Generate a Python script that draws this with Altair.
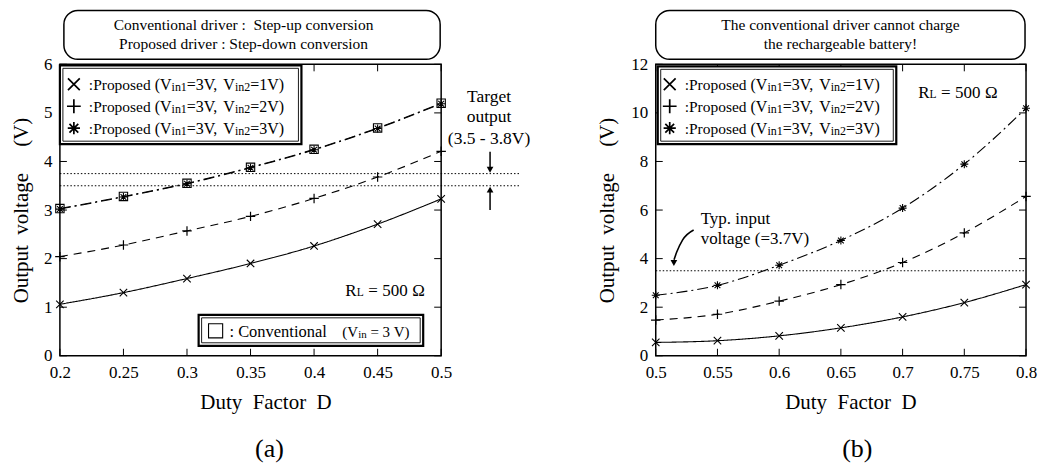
import altair as alt
import pandas as pd

FONT = "Liberation Serif"

# ---------------- data: panel (a) ----------------
A_D = [0.2, 0.25, 0.3, 0.35, 0.4, 0.45, 0.5]
A_V1 = [1.06, 1.30, 1.59, 1.90, 2.26, 2.71, 3.23]
A_V2 = [2.04, 2.28, 2.57, 2.87, 3.24, 3.68, 4.21]
A_V3 = [3.02, 3.27, 3.54, 3.87, 4.24, 4.68, 5.19]
A_CONV = [3.03, 3.28, 3.55, 3.88, 4.25, 4.69, 5.20]
A_XTICKS = [0.2, 0.25, 0.3, 0.35, 0.4, 0.45, 0.5]
A_YTICKS = [0, 1, 2, 3, 4, 5, 6]
A_TARGET = [3.5, 3.75]

# ---------------- data: panel (b) ----------------
B_D = [0.5, 0.55, 0.6, 0.65, 0.7, 0.75, 0.8]
B_V1 = [0.55, 0.62, 0.82, 1.15, 1.60, 2.19, 2.93]
B_V2 = [1.47, 1.71, 2.25, 2.93, 3.84, 5.06, 6.56]
B_V3 = [2.49, 2.90, 3.73, 4.75, 6.08, 7.89, 10.19]
B_XTICKS = [0.5, 0.55, 0.6, 0.65, 0.7, 0.75, 0.8]
B_YTICKS = [0, 2, 4, 6, 8, 10, 12]
B_TYP = [3.5]

# annotation arrow (b), in data units
B_ARROW_D = [0.5307, 0.5218, 0.5170, 0.5148]
B_ARROW_V = [5.18, 4.77, 4.27, 3.95]

X_PATH = "M-1,-1L1,1M-1,1L1,-1"
PLUS_PATH = "M-1,0L1,0M0,-1L0,1"
STAR_PATH = "M-1,0L1,0M0,-1L0,1M-0.72,-0.72L0.72,0.72M-0.72,0.72L0.72,-0.72"

DUMMY = pd.DataFrame({"k": [0]})

WID = {' ': 250, '(': 333, ')': 333, ':': 278, ',': 250, '.': 250, '=': 564,
       '-': 333, '!': 333, 'P': 556, 'r': 333, 'o': 500, 'p': 500, 's': 389, 'e': 444,
       'd': 500, 'V': 722, 'i': 278, 'n': 500, 'C': 667, 'v': 500, 't': 278, 'a': 444,
       'l': 278, 'R': 667, 'L': 611, '\u03a9': 768}


def twidth(s, fs):
    return sum(WID.get(c, 500) for c in s) * fs / 1000.0


def text_at(t, x, y, fs, align="left", baseline="alphabetic"):
    return alt.Chart(DUMMY).mark_text(
        text=t, align=align, baseline=baseline, fontSize=fs, font=FONT, color="black"
    ).encode(x=alt.value(x), y=alt.value(y))


def segments(parts, x0, y):
    # parts: (text, font size, baseline shift, gap before in px)
    out = []
    x = x0
    for t, fs, dy, gap in parts:
        x += gap
        out.append(text_at(t, x, y + dy, fs))
        x += twidth(t, fs)
    return out


def rect_at(x1, x2, y1, y2, sw=1.5, radius=0, fill="white"):
    kw = dict(fill=fill, stroke="black", strokeWidth=sw)
    if radius:
        kw["cornerRadius"] = radius
    return alt.Chart(DUMMY).mark_rect(**kw).encode(
        x=alt.value(x1), x2=alt.value(x2), y=alt.value(y1), y2=alt.value(y2))


def double_box(x1, x2, y1, y2):
    return [rect_at(x1, x2, y1, y2, sw=2.2),
            rect_at(x1 + 3, x2 - 3, y1 + 3, y2 - 3, sw=0.9, fill="transparent")]


def sym_at(shape, x, y, size, sw=1.2):
    return alt.Chart(DUMMY).mark_point(
        shape=shape, size=size, filled=False, stroke="black", strokeWidth=sw, opacity=1
    ).encode(x=alt.value(x), y=alt.value(y))


def inner_ticks(xv, yv, W, H, L=7):
    tx = alt.Chart(pd.DataFrame({"D": xv})).mark_rule(color="black", strokeWidth=1)
    ty = alt.Chart(pd.DataFrame({"V": yv})).mark_rule(color="black", strokeWidth=1)
    return [
        tx.encode(x="D:Q", y=alt.value(H), y2=alt.value(H - L)),
        tx.encode(x="D:Q", y=alt.value(0), y2=alt.value(L)),
        ty.encode(y="V:Q", x=alt.value(0), x2=alt.value(L)),
        ty.encode(y="V:Q", x=alt.value(W), x2=alt.value(W - L)),
    ]


def legend_rows(x_sym, x_txt, rows_y):
    out = []
    shapes = [(X_PATH, 140), (PLUS_PATH, 190), (STAR_PATH, 150)]
    for (shape, size), y, v2 in zip(shapes, rows_y, ["1V)", "2V)", "3V)"]):
        out.append(sym_at(shape, x_sym, y, size, sw=1.7))
        base = y + 5.5
        parts = [(":Proposed", 15.5, 0, 0), ("(V", 16, 0, 4), ("in1", 12, 1, 0),
                 ("=3V,", 16, 0, 0), ("V", 16, 0, 4), ("in2", 12, 1, 0),
                 ("=" + v2, 16, 0, 0)]
        out += segments(parts, x_txt, base)
    return out


def panel(D, series, xdom, ydom, xticks, yticks, W, H, ytitle_pad, title_x):
    rows = []
    for name, vals in series:
        for d, v in zip(D, vals):
            rows.append({"series": name, "D": d, "V": v})
    df = pd.DataFrame(rows)
    axis_common = dict(ticks=False, domain=False, grid=False, labelFont=FONT, titleFont=FONT,
                       labelFontSize=17, titleFontSize=21, labelColor="black",
                       titleColor="black", titleFontWeight="normal", labelFlush=False,
                       labelOverlap=False, labelBound=False)
    x = alt.X("D:Q", scale=alt.Scale(domain=xdom, nice=False, zero=False),
              axis=alt.Axis(values=xticks, format="~g",
                            title="Duty\u00a0\u00a0Factor\u00a0\u00a0D",
                            labelPadding=9, titlePadding=11, titleX=title_x, **axis_common))
    y = alt.Y("V:Q", scale=alt.Scale(domain=ydom, nice=False, zero=True),
              axis=alt.Axis(values=yticks, format="~g",
                            title="Output\u00a0\u00a0voltage\u00a0\u00a0\u00a0\u00a0\u00a0(V)",
                            labelPadding=8, titlePadding=ytitle_pad, **axis_common))
    names = [s[0] for s in series]
    dash_map = {"v1": [1, 0], "v2": [8, 6], "v3": [11, 4, 2, 4], "conv": [11, 4, 2, 4]}
    lines = alt.Chart(df).mark_line(color="black", strokeWidth=1.1, interpolate="monotone").encode(
        x=x, y=y, detail="series:N",
        strokeDash=alt.StrokeDash("series:N", scale=alt.Scale(
            domain=names, range=[dash_map[n] for n in names]), legend=None))
    layers = [lines]
    shape_map = {"conv": ("square", 70, 1.1), "v1": (X_PATH, 56, 1.1),
                 "v2": (PLUS_PATH, 90, 1.2), "v3": (STAR_PATH, 64, 1.1)}
    for n in (["conv"] if "conv" in names else []) + ["v1", "v2", "v3"]:
        shp, sz, sw = shape_map[n]
        layers.append(alt.Chart(df[df.series == n]).mark_point(
            shape=shp, size=sz, filled=False, stroke="black", strokeWidth=sw, opacity=1
        ).encode(x="D:Q", y="V:Q"))
    layers += inner_ticks(xticks, yticks, W, H)
    return layers


RL_PARTS = [("R", 17, 0, 0), ("L", 11.5, 0, 0), ("=", 17, 0, 4.5), ("500", 17, 0, 4.5),
            ("\u03a9", 17, 0, 4.5)]

# ---------------- panel (a) ----------------
WA, HA = 382, 292
la = panel(A_D, [("conv", A_CONV), ("v1", A_V1), ("v2", A_V2), ("v3", A_V3)],
           [0.2, 0.5], [0, 6], A_XTICKS, A_YTICKS, WA, HA, 12, 206)
la += [rect_at(4, 381, -54, -5, sw=1.5, radius=14)]
la += [text_at("Conventional driver :\u00a0\u00a0Step-up conversion", 184, -39.5, 15.5, "center", "middle"),
       text_at("Proposed driver : Step-down conversion", 184, -20.5, 15.5, "center", "middle")]
la += double_box(0, 242, 1, 80)
la += legend_rows(14, 29, [20, 42, 64])
# target lines and arrows
la.append(alt.Chart(pd.DataFrame({"V": A_TARGET})).mark_rule(
    color="black", strokeWidth=1, strokeDash=[1.5, 2]).encode(
    y="V:Q", x=alt.value(0), x2=alt.value(462)))
arr = pd.DataFrame({"V": [4.2, 3.0], "V2": [3.86, 3.40]})
la.append(alt.Chart(arr).mark_rule(color="black", strokeWidth=1.5).encode(
    x=alt.value(431), y="V:Q", y2="V2:Q"))
la.append(alt.Chart(pd.DataFrame({"V": [3.83]})).mark_point(
    shape="triangle-down", filled=True, size=45, color="black", opacity=1).encode(
    x=alt.value(431), y="V:Q"))
la.append(alt.Chart(pd.DataFrame({"V": [3.42]})).mark_point(
    shape="triangle-up", filled=True, size=45, color="black", opacity=1).encode(
    x=alt.value(431), y="V:Q"))
la += [text_at("Target", 430, 33, 17.5, "center", "middle"),
       text_at("output", 430, 53, 17.5, "center", "middle"),
       text_at("(3.5 - 3.8V)", 430, 75, 17.5, "center", "middle")]
la += segments(RL_PARTS, 286, 232)
la += double_box(139, 364, 251, 282)
la.append(sym_at("square", 156, 267, 200, sw=1.1))
la += segments([(":", 16.5, 0, 0), ("Conventional", 16.5, 0, 4)], 170, 273)
la += segments([("(V", 15, 0, 0), ("in", 11, 1, 0), ("=", 15, 0, 3.7), ("3", 15, 0, 3.7),
                ("V)", 15, 0, 3.7)], 283, 273)
la.append(text_at("(a)", 210, 385, 26, "center", "middle"))
left = alt.layer(*la).properties(width=WA, height=HA)

# ---------------- panel (b) ----------------
WB, HB = 371, 292
lb = panel(B_D, [("v1", B_V1), ("v2", B_V2), ("v3", B_V3)],
           [0.5, 0.8], [0, 12], B_XTICKS, B_YTICKS, WB, HB, 13, 195)
lb += [rect_at(0, 370, -54, -5, sw=1.5, radius=14)]
lb += [text_at("The conventional driver cannot charge", 185, -39.5, 15.5, "center", "middle"),
       text_at("the rechargeable battery!", 185, -20.5, 15.5, "center", "middle")]
lb += double_box(2, 241, 2, 80)
lb += legend_rows(14, 29, [20, 42, 64])
lb += segments(RL_PARTS, 263, 34)
lb.append(alt.Chart(pd.DataFrame({"V": B_TYP})).mark_rule(
    color="black", strokeWidth=1, strokeDash=[1.5, 2]).encode(
    y="V:Q", x=alt.value(0), x2=alt.value(WB)))
lb.append(alt.Chart(pd.DataFrame({"D": B_ARROW_D, "V": B_ARROW_V})).mark_line(
    color="black", strokeWidth=1.6, interpolate="monotone").encode(x="D:Q", y="V:Q", order="V:Q"))
lb.append(alt.Chart(pd.DataFrame({"D": [0.5147], "V": [3.82]})).mark_point(
    shape="triangle-down", filled=True, size=45, color="black", opacity=1).encode(
    x="D:Q", y="V:Q"))
lb += [text_at("Typ. input", 45, 155, 17, "left", "middle"),
       text_at("voltage (=3.7V)", 45, 175, 17, "left", "middle")]
lb.append(text_at("(b)", 202, 385, 26, "center", "middle"))
right = alt.layer(*lb).properties(width=WB, height=HB)

chart = alt.hconcat(left, right, spacing=215, bounds="flush").properties(
    padding={"left": 1, "top": 0, "right": 0, "bottom": 0}
).configure_view(stroke="black", strokeWidth=1.5)

chart.save("out.html", embed_options={"renderer": "svg", "actions": False})
